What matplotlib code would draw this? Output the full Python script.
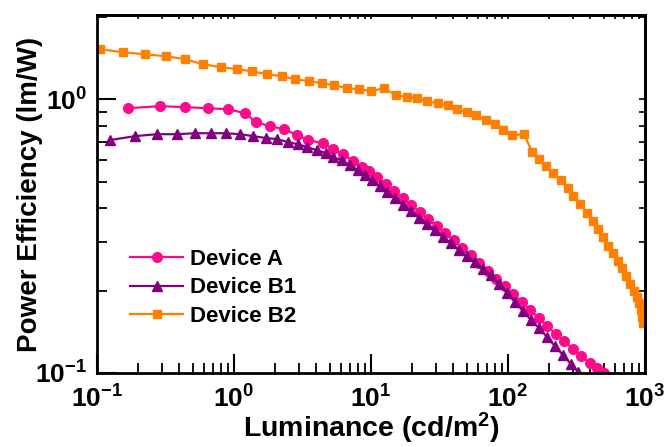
import numpy as np
import matplotlib
matplotlib.use('Agg')
import matplotlib.pyplot as plt
from matplotlib.ticker import FixedLocator, FixedFormatter, NullFormatter, LogLocator

plt.rcParams['font.family'] = ['Liberation Sans', 'DejaVu Sans']
plt.rcParams['font.weight'] = 'bold'
plt.rcParams['mathtext.fontset'] = 'custom'
plt.rcParams['mathtext.rm'] = 'Liberation Sans:bold'
plt.rcParams['mathtext.bf'] = 'Liberation Sans:bold'
plt.rcParams['mathtext.it'] = 'Liberation Sans:bold:italic'

# ---- data ----
lum_a = [0.168, 0.288, 0.439, 0.646, 0.904, 1.203, 1.447, 1.831, 2.317, 2.884, 3.469,
         4.462, 5.28, 6.25, 7.39, 8.60, 9.67, 11.06, 12.87, 14.72, 17.12, 19.59, 22.79,
         26.07, 30.33, 34.69, 40.35, 46.16, 53.70, 61.42, 71.45, 81.73, 95.08, 108.8,
         126.6, 144.7, 168.4, 192.6, 224.1, 256.3, 298.2, 341.1, 396.8, 446.2, 502.0]
eff_a = [0.927, 0.943, 0.935, 0.927, 0.919, 0.889, 0.824, 0.797, 0.777, 0.739, 0.709,
         0.691, 0.657, 0.630, 0.594, 0.565, 0.546, 0.519, 0.490, 0.462, 0.435, 0.410,
         0.387, 0.365, 0.344, 0.324, 0.306, 0.286, 0.270, 0.252, 0.236, 0.220, 0.2077,
         0.194, 0.1816, 0.1698, 0.1588, 0.1484, 0.1388, 0.1309, 0.1224, 0.1153, 0.1088,
         0.1043, 0.0998]

lum_b1 = [0.1244, 0.1894, 0.274, 0.3836, 0.519, 0.679, 0.874, 1.106, 1.376, 1.712, 2.060,
          2.479, 2.933, 3.411, 4.035, 4.693, 5.28, 6.14, 7.03, 8.04, 9.04, 10.17, 11.63,
          13.09, 14.97, 17.12, 19.59, 22.41, 25.63, 29.33, 33.54, 38.36, 43.88, 50.20,
          57.43, 65.69, 75.14, 85.96, 98.33, 112.5, 128.7, 147.2, 168.4, 192.6, 220.3,
          252.0, 288.4, 324.3]
eff_b1 = [0.709, 0.733, 0.745, 0.745, 0.751, 0.751, 0.751, 0.745, 0.733, 0.721, 0.715,
          0.697, 0.685, 0.668, 0.651, 0.635, 0.614, 0.599, 0.574, 0.551, 0.528, 0.506,
          0.481, 0.458, 0.435, 0.410, 0.390, 0.368, 0.350, 0.3325, 0.3135, 0.298, 0.281,
          0.267, 0.254, 0.2396, 0.228, 0.211, 0.196, 0.1816, 0.1684, 0.1561, 0.1459,
          0.1353, 0.1254, 0.1163, 0.1078, 0.1008]

lum_b2 = [0.105, 0.155, 0.224, 0.319, 0.438, 0.594, 0.804, 1.05, 1.35, 1.74, 2.24, 2.79,
          3.53, 4.39, 5.37, 6.68, 8.17, 10.0, 12.4, 15.2, 18.3, 21.7, 25.6, 30.8, 36.5,
          42.4, 50.2, 58.4, 69.0, 80.4, 92.0, 107, 131, 150, 168, 189, 213, 244, 274, 298,
          336, 378, 417, 454, 493, 537, 583, 635, 679, 726, 778, 832, 875, 904, 935, 951, 966]
eff_b2 = [1.522, 1.484, 1.459, 1.435, 1.400, 1.342, 1.309, 1.287, 1.265, 1.234, 1.213,
          1.183, 1.163, 1.144, 1.125, 1.097, 1.088, 1.070, 1.097, 1.034, 1.017, 1.008,
          0.983, 0.967, 0.951, 0.919, 0.897, 0.874, 0.838, 0.810, 0.770, 0.739, 0.745,
          0.641, 0.604, 0.569, 0.537, 0.506, 0.473, 0.443, 0.414, 0.384, 0.359, 0.335,
          0.314, 0.291, 0.274, 0.256, 0.242, 0.226, 0.211, 0.199, 0.189, 0.180, 0.170,
          0.160, 0.152]

series_labels = ['Device A', 'Device B1', 'Device B2']
x_ticks = [0.1, 1, 10, 100, 1000]
x_ticklabels = [r'$\mathbf{10^{-1}}$', r'$\mathbf{10^{0}}$', r'$\mathbf{10^{1}}$',
                r'$\mathbf{10^{2}}$', r'$\mathbf{10^{3}}$']
y_ticks = [0.1, 1]
y_ticklabels = [r'$\mathbf{10^{-1}}$', r'$\mathbf{10^{0}}$']

# ---- figure ----
fig = plt.figure(figsize=(6.65, 4.47), dpi=100)
ax = fig.add_axes([97 / 665, 74 / 447, 548 / 665, 358 / 447])

c_a, c_b1, c_b2 = '#FF0A8C', '#800080', '#FF8000'
ax.plot(lum_a, eff_a, '-', marker='o', color=c_a, ms=7, lw=1.6, label=series_labels[0])
ax.plot(lum_b1, eff_b1, '-', marker='^', color=c_b1, ms=7.5, lw=1.6, label=series_labels[1])
ax.plot(lum_b2, eff_b2, '-', marker='s', color=c_b2, ms=6, lw=1.6, label=series_labels[2])

ax.set_xscale('log')
ax.set_yscale('log')
ax.set_xlim(0.1, 1000)
ax.set_ylim(0.1, 2.03)

ax.xaxis.set_major_locator(FixedLocator(x_ticks))
ax.xaxis.set_major_formatter(FixedFormatter(x_ticklabels))
ax.yaxis.set_major_locator(FixedLocator(y_ticks))
ax.yaxis.set_major_formatter(FixedFormatter(y_ticklabels))
ax.xaxis.set_minor_locator(LogLocator(base=10, subs=np.arange(2, 10), numticks=20))
ax.yaxis.set_minor_locator(LogLocator(base=10, subs=np.arange(2, 10), numticks=20))
ax.xaxis.set_minor_formatter(NullFormatter())
ax.yaxis.set_minor_formatter(NullFormatter())

ax.tick_params(which='major', direction='in', length=14, width=1.5, labelsize=19)
ax.tick_params(which='minor', direction='in', length=7, width=1.3)
ax.tick_params(axis='x', which='major', pad=9)
ax.tick_params(axis='y', which='major', pad=7)

for sp in ax.spines.values():
    sp.set_linewidth(2)

secx = ax.secondary_xaxis('top')
secx.tick_params(which='both', direction='in', length=3, width=1.2, labeltop=False)
secx.xaxis.set_major_locator(FixedLocator(x_ticks))
secx.xaxis.set_minor_locator(LogLocator(base=10, subs=np.arange(2, 10), numticks=20))
secx.xaxis.set_major_formatter(NullFormatter())
secx.xaxis.set_minor_formatter(NullFormatter())
secx.spines['top'].set_linewidth(2)

secy = ax.secondary_yaxis('right')
secy.tick_params(which='both', direction='in', length=4, width=1.2, labelright=False)
secy.yaxis.set_major_locator(FixedLocator(y_ticks))
secy.yaxis.set_minor_locator(LogLocator(base=10, subs=np.arange(2, 10), numticks=20))
secy.yaxis.set_major_formatter(NullFormatter())
secy.yaxis.set_minor_formatter(NullFormatter())
secy.spines['right'].set_linewidth(2)

ax.set_xlabel(r'Luminance (cd/m$^{\mathbf{2}}$)', fontsize=20.5, fontweight='bold', labelpad=-1.5)
ax.set_ylabel('Power Efficiency (lm/W)', fontsize=20, fontweight='bold', labelpad=-6)

leg = ax.legend(loc='upper left', bbox_to_anchor=(33 / 548, 124 / 358), frameon=False,
                fontsize=16, handlelength=2.4, handletextpad=0.3, labelspacing=0.33,
                borderpad=0, borderaxespad=0)

fig.savefig('out.png', dpi=100)
